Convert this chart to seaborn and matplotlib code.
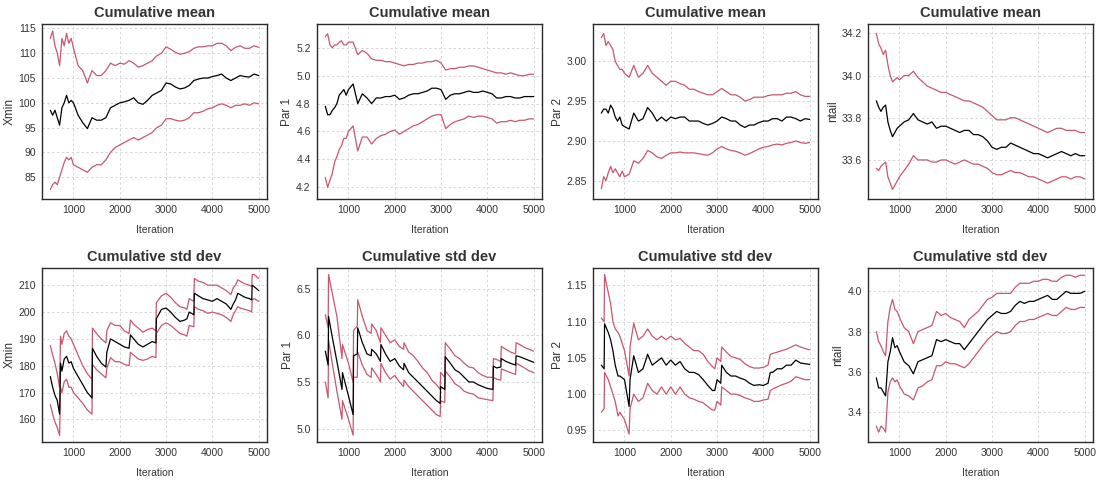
import matplotlib
matplotlib.use("Agg")
import matplotlib.pyplot as plt
import seaborn as sns

# ---------------- data ----------------
iter_top = [500, 550, 600, 650, 700, 750, 800, 850, 900, 950, 1000,
            1100, 1200, 1300, 1400, 1500, 1600, 1700, 1800, 1900, 2000,
            2100, 2200, 2300, 2400, 2500, 2600, 2700, 2800, 2900, 3000,
            3100, 3200, 3300, 3400, 3500, 3600, 3700, 3800, 3900, 4000,
            4100, 4200, 4300, 4400, 4500, 4600, 4700, 4800, 4900, 5000]

xmin_mean = [98.5, 97.5, 98.5, 97, 95.5, 99, 100, 101.5, 100, 100.5, 100,
             97.5, 96, 94.8, 97, 96.5, 96.5, 97, 99, 99.5, 100,
             100.2, 100.5, 101, 100, 99.7, 100.5, 101.5, 102, 102.5, 104,
             103.8, 103.2, 102.8, 103, 103.5, 104.5, 104.8, 105, 105, 105.3,
             105.5, 105.8, 105, 104.5, 105, 105.5, 105.3, 105.2, 105.8, 105.5]
xmin_mean_hi = [113, 114.5, 111.5, 110, 107.5, 113, 111.5, 114, 112, 113, 111,
                107.5, 106.5, 104, 106.5, 105.5, 105.5, 106.5, 108, 107.5, 108,
                107.8, 108.5, 108, 107.2, 107.5, 108, 108.5, 109.5, 110, 111.3,
                110.8, 110.2, 109.8, 110, 110.3, 111, 111.3, 111.3, 111.5, 111.5,
                112, 112, 111.5, 110.5, 111.2, 111.5, 111, 111, 111.5, 111.2]
xmin_mean_lo = [82.5, 83.5, 84, 83.5, 85, 86.5, 88, 89, 88.5, 89, 87.5,
                87, 86.5, 86, 87, 87.5, 87.5, 88.5, 90, 91, 91.5,
                92, 92.5, 93, 92.5, 93, 93.5, 94, 95, 95.5, 96.8,
                96.8, 96.5, 96.3, 96.5, 97, 98, 98, 98.3, 98.8, 99,
                99.5, 99.8, 99.5, 99, 99.5, 99.5, 99.8, 99.5, 100, 99.8]

par1_mean = [4.78, 4.72, 4.72, 4.75, 4.77, 4.80, 4.86, 4.88, 4.90, 4.86, 4.90,
             4.94, 4.80, 4.87, 4.84, 4.80, 4.84, 4.84, 4.85, 4.85, 4.86,
             4.83, 4.84, 4.86, 4.87, 4.87, 4.88, 4.89, 4.91, 4.91, 4.90,
             4.83, 4.86, 4.87, 4.87, 4.88, 4.89, 4.88, 4.88, 4.89, 4.88,
             4.87, 4.84, 4.84, 4.85, 4.85, 4.84, 4.84, 4.85, 4.85, 4.85]
par1_mean_hi = [5.28, 5.30, 5.22, 5.20, 5.22, 5.22, 5.24, 5.25, 5.22, 5.22, 5.24,
                5.24, 5.15, 5.18, 5.16, 5.12, 5.11, 5.11, 5.10, 5.10, 5.09,
                5.08, 5.07, 5.08, 5.08, 5.09, 5.09, 5.10, 5.10, 5.11, 5.09,
                5.04, 5.05, 5.05, 5.06, 5.06, 5.07, 5.07, 5.06, 5.05, 5.04,
                5.03, 5.02, 5.02, 5.01, 5.02, 5.01, 5.00, 5.00, 5.01, 5.01]
par1_mean_lo = [4.27, 4.20, 4.25, 4.30, 4.38, 4.42, 4.47, 4.50, 4.55, 4.55, 4.60,
                4.64, 4.46, 4.56, 4.56, 4.51, 4.55, 4.57, 4.58, 4.60, 4.61,
                4.58, 4.60, 4.62, 4.64, 4.65, 4.67, 4.69, 4.71, 4.72, 4.72,
                4.62, 4.65, 4.67, 4.68, 4.69, 4.71, 4.70, 4.71, 4.71, 4.70,
                4.69, 4.66, 4.67, 4.67, 4.68, 4.67, 4.68, 4.68, 4.69, 4.69]

par2_mean = [2.935, 2.94, 2.94, 2.935, 2.945, 2.94, 2.93, 2.925, 2.93, 2.92, 2.918,
             2.915, 2.935, 2.925, 2.928, 2.942, 2.935, 2.925, 2.93, 2.925, 2.93,
             2.928, 2.93, 2.93, 2.925, 2.925, 2.925, 2.922, 2.92, 2.922, 2.925,
             2.93, 2.928, 2.925, 2.925, 2.92, 2.917, 2.92, 2.92, 2.923, 2.925,
             2.925, 2.928, 2.928, 2.925, 2.93, 2.93, 2.928, 2.925, 2.928, 2.927]
par2_mean_hi = [3.03, 3.035, 3.02, 3.025, 3.02, 3.015, 3.00, 2.995, 2.99, 2.99, 2.985,
                2.98, 2.995, 2.98, 2.985, 2.995, 2.985, 2.98, 2.975, 2.97, 2.975,
                2.975, 2.972, 2.97, 2.965, 2.965, 2.962, 2.96, 2.958, 2.958, 2.962,
                2.966, 2.962, 2.958, 2.958, 2.955, 2.95, 2.952, 2.955, 2.955, 2.955,
                2.957, 2.958, 2.958, 2.958, 2.96, 2.96, 2.962, 2.958, 2.956, 2.956]
par2_mean_lo = [2.84, 2.855, 2.85, 2.86, 2.868, 2.86, 2.865, 2.86, 2.855, 2.862, 2.855,
                2.858, 2.875, 2.872, 2.878, 2.888, 2.885, 2.88, 2.878, 2.882, 2.885,
                2.885, 2.886, 2.885, 2.885, 2.885, 2.884, 2.883, 2.882, 2.885, 2.89,
                2.893, 2.89, 2.888, 2.887, 2.885, 2.882, 2.884, 2.887, 2.89, 2.892,
                2.893, 2.895, 2.896, 2.895, 2.897, 2.898, 2.9, 2.898, 2.897, 2.898]

ntail_mean = [33.88, 33.85, 33.83, 33.85, 33.86, 33.78, 33.74, 33.71, 33.73, 33.75, 33.76,
              33.78, 33.79, 33.82, 33.79, 33.78, 33.77, 33.78, 33.75, 33.76, 33.76,
              33.75, 33.74, 33.73, 33.74, 33.74, 33.72, 33.72, 33.71, 33.69, 33.66,
              33.65, 33.66, 33.66, 33.68, 33.67, 33.66, 33.65, 33.64, 33.63, 33.63,
              33.62, 33.61, 33.62, 33.63, 33.64, 33.63, 33.62, 33.63, 33.62, 33.62]
ntail_mean_hi = [34.2, 34.15, 34.13, 34.1, 34.12, 34.05, 34.0, 33.97, 33.98, 33.99, 33.98,
                 34.0, 34.0, 34.02, 33.99, 33.97, 33.95, 33.94, 33.93, 33.92, 33.92,
                 33.91, 33.9, 33.89, 33.88, 33.88, 33.87, 33.86, 33.85, 33.83, 33.81,
                 33.79, 33.79, 33.79, 33.8, 33.8, 33.79, 33.78, 33.77, 33.76, 33.75,
                 33.74, 33.73, 33.74, 33.75, 33.75, 33.74, 33.74, 33.74, 33.73, 33.73]
ntail_mean_lo = [33.56, 33.55, 33.57, 33.58, 33.59, 33.52, 33.49, 33.46, 33.48, 33.5, 33.52,
                 33.55, 33.58, 33.62, 33.6, 33.6, 33.6, 33.59, 33.59, 33.6, 33.6,
                 33.59, 33.58, 33.59, 33.6, 33.59, 33.58, 33.58, 33.57, 33.56, 33.54,
                 33.53, 33.53, 33.54, 33.55, 33.54, 33.54, 33.53, 33.52, 33.52, 33.51,
                 33.5, 33.49, 33.5, 33.51, 33.52, 33.52, 33.51, 33.52, 33.52, 33.51]

iter_xmin_sd = [500, 550, 600, 650, 700, 720, 750, 800, 850, 900, 950, 1000,
                1100, 1200, 1300, 1400, 1410,
                1500, 1600, 1700, 1720,
                1800, 1900, 2000, 2100, 2200, 2230,
                2300, 2400, 2500, 2600, 2700,
                2780, 2790,
                2900, 3000, 3100, 3200, 3300, 3400,
                3450, 3500, 3600, 3610,
                3700, 3800, 3900, 4000, 4100, 4200, 4300, 4400,
                4450, 4500, 4550, 4600,
                4700, 4800, 4850, 4860, 4900, 5000]
xmin_sd = [176, 172, 169, 167, 162, 181, 178, 182.5, 183.5, 181, 181.5, 179,
           176, 173, 170, 168, 186.5,
           183.5, 181, 179.5, 185,
           190, 189, 188, 187, 186.5, 191.5,
           190, 188, 187, 188, 189,
           188.5, 197.5,
           201, 201.5, 200, 198, 196.5, 197,
           197.5, 200, 199, 207,
           206, 205, 204.5, 204, 205, 204, 203, 201,
           203, 204.5, 207, 206.5,
           205.5, 205, 204.5, 210, 209.5, 208]
xmin_sd_hi = [187.5, 184, 181, 177, 172, 191, 188, 192, 193, 191, 190, 188,
              184, 180, 177, 175, 194,
              192, 190, 188.5, 193,
              196, 195, 195, 193, 192, 197,
              195.5, 194, 192.5, 193.5, 194,
              193, 203.5,
              206, 207, 205.5, 203.5, 202, 201.5,
              201, 205, 204, 212.5,
              211.5, 211, 210, 210, 210, 209, 208, 206.5,
              209, 210, 212, 211.5,
              210.5, 210, 209.5, 214, 214, 212.5]
xmin_sd_lo = [165.5, 162, 159, 157, 154, 172, 170, 174, 175, 172, 172, 170,
              168, 166, 163.5, 162, 180.5,
              178.5, 177, 175.5, 179,
              183, 181.5, 181.5, 180.5, 180, 185,
              184, 182.5, 182, 182.5, 183.5,
              183, 192,
              195, 196, 195, 193.5, 192, 191.5,
              191, 195, 194.5, 202,
              201, 200.5, 199.5, 200, 199.5, 199, 198, 196.5,
              199, 200.5, 202, 201.5,
              201, 200.5, 200, 204.5, 205, 204]

iter_par1_sd = [500, 560, 570, 650, 750, 860, 870, 1000, 1100, 1110, 1190, 1200,
                1300, 1400, 1490, 1500, 1600, 1690, 1700, 1800, 1900, 2000,
                2100, 2190, 2200, 2300, 2400, 2500, 2600, 2700, 2800, 2900,
                2980, 2990, 3080, 3090,
                3200, 3300, 3400, 3500, 3600, 3700, 3800, 3900, 4000,
                4120, 4130, 4200, 4290, 4300, 4400, 4500, 4610, 4620,
                4700, 4800, 4900, 5000]
par1_sd = [5.83, 5.68, 6.2, 5.98, 5.72, 5.42, 5.6, 5.35, 5.15, 5.78, 5.8, 6.08,
           5.92, 5.8, 5.78, 5.85, 5.8, 5.72, 5.9, 5.8, 5.72, 5.75,
           5.67, 5.63, 5.7, 5.6, 5.55, 5.5, 5.45, 5.4, 5.35, 5.3,
           5.27, 5.45, 5.42, 5.77,
           5.7, 5.63, 5.6, 5.55, 5.5, 5.5, 5.47, 5.45, 5.43,
           5.42, 5.67, 5.65, 5.66, 5.75, 5.72, 5.7, 5.68, 5.78,
           5.77, 5.75, 5.73, 5.71]
par1_sd_hi = [6.22, 6.08, 6.65, 6.45, 6.2, 5.75, 5.9, 5.7, 5.5, 6.05, 6.1, 6.38,
              6.2, 6.05, 6.02, 6.12, 6.05, 5.92, 6.08, 6.0, 5.92, 5.95,
              5.88, 5.85, 5.92, 5.82, 5.78, 5.72, 5.65, 5.6, 5.52, 5.47,
              5.42, 5.6, 5.55, 5.92,
              5.85, 5.78, 5.75, 5.7, 5.66, 5.65, 5.6, 5.57, 5.55,
              5.55, 5.75, 5.74, 5.72, 5.88, 5.85, 5.82, 5.8, 5.92,
              5.9, 5.87, 5.85, 5.83]
par1_sd_lo = [5.5, 5.33, 5.95, 5.7, 5.4, 5.1, 5.3, 5.1, 4.93, 5.55, 5.55, 5.82,
              5.68, 5.58, 5.55, 5.65, 5.58, 5.5, 5.7, 5.6, 5.53, 5.57,
              5.5, 5.45, 5.52, 5.45, 5.4, 5.35, 5.3, 5.25, 5.2, 5.15,
              5.13, 5.3, 5.28, 5.62,
              5.55, 5.48, 5.45, 5.4, 5.38, 5.37, 5.33, 5.32, 5.31,
              5.3, 5.55, 5.53, 5.52, 5.64, 5.62, 5.6, 5.58, 5.7,
              5.68, 5.65, 5.62, 5.6]

iter_par2_sd = [500, 560, 570, 650, 700, 750, 800, 860, 900, 1000, 1100, 1120,
                1200, 1300, 1400, 1500, 1600, 1700, 1800, 1900, 2000,
                2100, 2200, 2300, 2400, 2500, 2600, 2700, 2800, 2900,
                2950, 3000, 3080, 3100,
                3200, 3300, 3400, 3500, 3600, 3700, 3800, 3900, 4000, 4100,
                4150, 4200, 4300, 4400, 4500, 4600, 4700, 4800, 4900, 5000]
par2_sd = [1.04, 1.035, 1.097, 1.085, 1.075, 1.06, 1.04, 1.025, 1.025, 1.02, 0.983, 1.02,
           1.053, 1.03, 1.035, 1.055, 1.04, 1.045, 1.05, 1.04, 1.047,
           1.04, 1.045, 1.035, 1.03, 1.03, 1.027, 1.02, 1.012, 1.005,
           1.005, 1.02, 1.015, 1.04,
           1.03, 1.025, 1.025, 1.022, 1.02, 1.015, 1.012, 1.013, 1.012, 1.015,
           1.03, 1.03, 1.035, 1.035, 1.04, 1.04, 1.047, 1.043, 1.042, 1.041]
par2_sd_hi = [1.105, 1.1, 1.165, 1.14, 1.125, 1.1, 1.09, 1.085, 1.08, 1.06, 1.025, 1.065,
              1.098, 1.075, 1.08, 1.09, 1.08, 1.075, 1.08, 1.075, 1.08,
              1.075, 1.077, 1.07, 1.065, 1.06, 1.06, 1.055, 1.045, 1.038,
              1.035, 1.05, 1.045, 1.065,
              1.058, 1.052, 1.05, 1.048, 1.042, 1.038, 1.036, 1.036, 1.037, 1.04,
              1.055, 1.056, 1.058, 1.06, 1.062, 1.065, 1.068, 1.065, 1.063, 1.061]
par2_sd_lo = [0.975, 0.98, 1.03, 1.02, 1.01, 1.0, 0.99, 0.97, 0.975, 0.965, 0.945, 0.98,
              1.0, 0.99, 0.995, 1.015, 1.005, 1.0, 1.01, 1.0, 1.01,
              1.0, 1.01, 1.0, 0.995, 0.993, 0.99, 0.988, 0.983, 0.978,
              0.978, 0.99, 0.985, 1.01,
              1.005, 1.0, 1.0, 0.998, 0.995, 0.993, 0.99, 0.99, 0.992, 0.993,
              1.005, 1.007, 1.01, 1.013, 1.015, 1.018, 1.024, 1.022, 1.02, 1.02]

ntail_sd = [3.57, 3.52, 3.52, 3.5, 3.48, 3.65, 3.7, 3.77, 3.72, 3.73, 3.7,
            3.65, 3.63, 3.59, 3.65, 3.66, 3.67, 3.68, 3.76, 3.75, 3.76,
            3.75, 3.74, 3.74, 3.71, 3.74, 3.77, 3.8, 3.83, 3.86, 3.88,
            3.9, 3.89, 3.89, 3.9, 3.93, 3.95, 3.94, 3.95, 3.95, 3.96,
            3.97, 3.98, 3.96, 3.96, 3.98, 4.0, 3.99, 3.99, 3.99, 4.0]
ntail_sd_hi = [3.8, 3.75, 3.73, 3.7, 3.68, 3.85, 3.92, 3.96, 3.91, 3.9, 3.87,
               3.82, 3.8, 3.74, 3.8, 3.81, 3.82, 3.83, 3.9, 3.88, 3.89,
               3.87, 3.86, 3.85, 3.82, 3.86, 3.88, 3.9, 3.93, 3.96, 3.97,
               3.99, 3.99, 3.99, 3.99, 4.02, 4.04, 4.04, 4.04, 4.05, 4.05,
               4.06, 4.06, 4.05, 4.05, 4.07, 4.08, 4.08, 4.07, 4.08, 4.08]
ntail_sd_lo = [3.33, 3.3, 3.33, 3.32, 3.3, 3.5, 3.55, 3.57, 3.55, 3.56, 3.53,
               3.49, 3.48, 3.46, 3.52, 3.53, 3.55, 3.56, 3.63, 3.63, 3.65,
               3.64, 3.64, 3.63, 3.62, 3.64, 3.67, 3.7, 3.73, 3.76, 3.78,
               3.8, 3.79, 3.79, 3.8, 3.83, 3.85, 3.85, 3.86, 3.86, 3.87,
               3.88, 3.89, 3.88, 3.88, 3.9, 3.92, 3.91, 3.91, 3.92, 3.92]

x_ticks = [1000, 2000, 3000, 4000, 5000]

# ---------------- style ----------------
sns.set_style("white")
plt.rcParams['font.family'] = ['Liberation Sans', 'DejaVu Sans']

RED = "#C9566E"
FRAME = "#2b2b2b"
TXT = "#333333"

fig = plt.figure(figsize=(10.97, 4.88), dpi=100)
W, H = 1097.0, 488.0
lefts = [42, 317, 593, 868]
rows = [(24, 199), (268, 442)]
aw = 225


def make_ax(col, row):
    top, bot = rows[row]
    return fig.add_axes([lefts[col] / W, 1 - bot / H, aw / W, (bot - top) / H])


def panel(ax, x, mid, lo, hi, title, ylabel, ylim, yticks, fmt):
    sns.lineplot(x=x, y=hi, ax=ax, color=RED, linewidth=0.9)
    sns.lineplot(x=x, y=lo, ax=ax, color=RED, linewidth=0.9)
    sns.lineplot(x=x, y=mid, ax=ax, color="black", linewidth=0.9)
    ax.set_xlim(320, 5180)
    ax.set_ylim(*ylim)
    ax.set_xticks(x_ticks)
    ax.set_xticklabels([str(t) for t in x_ticks])
    ax.set_yticks(yticks)
    ax.set_yticklabels([fmt.format(v) for v in yticks])
    ax.grid(True, color="#d6d6d6", linestyle=(0, (2.5, 2.5)), linewidth=0.7)
    ax.set_axisbelow(True)
    for s in ax.spines.values():
        s.set_color(FRAME)
        s.set_linewidth(1.0)
    ax.tick_params(axis="both", which="major", length=2.5, width=0.7,
                   color=FRAME, labelsize=7.5, labelcolor=TXT, pad=2)
    ax.set_title(title, fontsize=10.5, fontweight="bold", color=TXT, pad=5)
    ax.set_xlabel("Iteration", fontsize=7.5, color=TXT, labelpad=7)
    ax.set_ylabel(ylabel, fontsize=8.5, color=TXT, labelpad=2)


specs = [
    (0, 0, iter_top, xmin_mean, xmin_mean_lo, xmin_mean_hi, "Cumulative mean", "Xmin",
     (80.6, 115.9), [85, 90, 95, 100, 105, 110, 115], "{:.0f}"),
    (1, 0, iter_top, par1_mean, par1_mean_lo, par1_mean_hi, "Cumulative mean", "Par 1",
     (4.116, 5.37), [4.2, 4.4, 4.6, 4.8, 5.0, 5.2], "{:.1f}"),
    (2, 0, iter_top, par2_mean, par2_mean_lo, par2_mean_hi, "Cumulative mean", "Par 2",
     (2.827, 3.047), [2.85, 2.90, 2.95, 3.00], "{:.2f}"),
    (3, 0, iter_top, ntail_mean, ntail_mean_lo, ntail_mean_hi, "Cumulative mean", "ntail",
     (33.415, 34.244), [33.6, 33.8, 34.0, 34.2], "{:.1f}"),
    (0, 1, iter_xmin_sd, xmin_sd, xmin_sd_lo, xmin_sd_hi, "Cumulative std dev", "Xmin",
     (151.6, 216.4), [160, 170, 180, 190, 200, 210], "{:.0f}"),
    (1, 1, iter_par1_sd, par1_sd, par1_sd_lo, par1_sd_hi, "Cumulative std dev", "Par 1",
     (4.857, 6.72), [5.0, 5.5, 6.0, 6.5], "{:.1f}"),
    (2, 1, iter_par2_sd, par2_sd, par2_sd_lo, par2_sd_hi, "Cumulative std dev", "Par 2",
     (0.934, 1.174), [0.95, 1.00, 1.05, 1.10, 1.15], "{:.2f}"),
    (3, 1, iter_top, ntail_sd, ntail_sd_lo, ntail_sd_hi, "Cumulative std dev", "ntail",
     (3.251, 4.116), [3.4, 3.6, 3.8, 4.0], "{:.1f}"),
]

for col, row, x, mid, lo, hi, title, ylabel, ylim, yticks, fmt in specs:
    ax = make_ax(col, row)
    panel(ax, x, mid, lo, hi, title, ylabel, ylim, yticks, fmt)

fig.savefig("out.png", dpi=100)
